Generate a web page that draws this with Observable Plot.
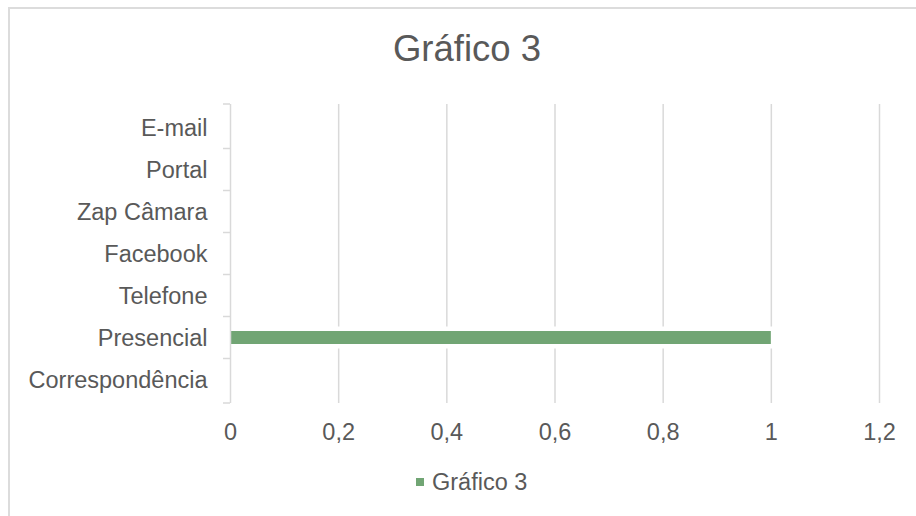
<!DOCTYPE html>
<html>
<head>
<meta charset="utf-8">
<script src="https://cdn.jsdelivr.net/npm/d3@7"></script>
<script src="https://cdn.jsdelivr.net/npm/@observablehq/plot@0.6"></script>
<style>
  html, body { margin: 0; padding: 0; background: #fff; }
  #wrap { position: relative; width: 916px; height: 516px; overflow: hidden; font-family: "Liberation Sans", Arial, sans-serif; color: #595959; }
  #frame { position: absolute; left: 8px; top: 7px; width: 920px; height: 520px; border-left: 2px solid #dcdcdc; border-top: 2px solid #dcdcdc; }
  #title { position: absolute; left: 0; width: 934px; top: 31px; text-align: center; font-size: 36.5px; line-height: 36.5px; }
  #chart { position: absolute; left: 0; top: 90px; }
  #legend { position: absolute; left: 416px; top: 470px; font-size: 23.5px; line-height: 24px; display: flex; align-items: center; }
  #legend .sw { width: 8px; height: 8px; margin-right: 8px; }
</style>
</head>
<body>
<div id="wrap">
  <div id="frame"></div>
  <div id="title"></div>
  <div id="chart"></div>
  <div id="legend"><span class="sw"></span><span class="lbl"></span></div>
</div>
<script>
const chartTitle = "Gráfico 3";
const seriesName = "Gráfico 3";
const categories = ["E-mail", "Portal", "Zap Câmara", "Facebook", "Telefone", "Presencial", "Correspondência"];
const values = [0, 0, 0, 0, 0, 1, 0];
const xTicks = [0, 0.2, 0.4, 0.6, 0.8, 1, 1.2];
const barColor = "#71a574";

const data = categories.map((c, i) => ({category: c, value: values[i]}));

document.getElementById("title").textContent = chartTitle;
document.querySelector("#legend .sw").style.background = barColor;
document.querySelector("#legend .lbl").textContent = seriesName;

const fmt = d => String(d).replace(".", ",");

// tick marks at category boundaries (Excel style)
function boundaryTicks(index, scales, channels, dimensions) {
  const y = scales.y;
  const bw = typeof y.bandwidth === "function" ? y.bandwidth() : y.bandwidth;
  const centers = categories.map(c => y(c) + bw / 2);
  const top = dimensions.marginTop;
  const bottom = dimensions.height - dimensions.marginBottom;
  const bounds = [top];
  for (let i = 1; i < centers.length; i++) bounds.push((centers[i - 1] + centers[i]) / 2);
  bounds.push(bottom);
  const x0 = dimensions.marginLeft;
  const g = d3.create("svg:g");
  g.selectAll("line").data(bounds).join("line")
    .attr("x1", x0 - 7).attr("x2", x0)
    .attr("y1", d => d).attr("y2", d => d)
    .attr("stroke", "#d9d9d9").attr("stroke-width", 1.5);
  return g.node();
}

const chart = Plot.plot({
  width: 916,
  height: 360,
  marginLeft: 230,
  marginRight: 37,
  marginTop: 14,
  marginBottom: 47,
  style: {fontFamily: "'Liberation Sans', Arial, sans-serif", fontSize: "23.5px", color: "#595959", background: "transparent"},
  x: {domain: [0, 1.2]},
  y: {domain: categories, paddingInner: 0.7, paddingOuter: 0.35},
  marks: [
    Plot.ruleX(xTicks.filter(d => d > 0), {stroke: "#d9d9d9", strokeWidth: 1.5}),
    Plot.barX(data, {filter: d => d.value > 0, x: "value", y: "category", fill: "white", inset: -4.5}),
    Plot.barX(data, {filter: d => d.value > 0, x: "value", y: "category", fill: barColor}),
    Plot.ruleX([0], {stroke: "#d9d9d9", strokeWidth: 1.5}),
    boundaryTicks,
    Plot.axisX({ticks: xTicks, tickFormat: fmt, tickSize: 0, tickPadding: 20, label: null, fill: "#595959"}),
    Plot.axisY({tickSize: 0, tickPadding: 23, label: null, fill: "#595959"})
  ]
});
document.getElementById("chart").appendChild(chart);
</script>
</body>
</html>
